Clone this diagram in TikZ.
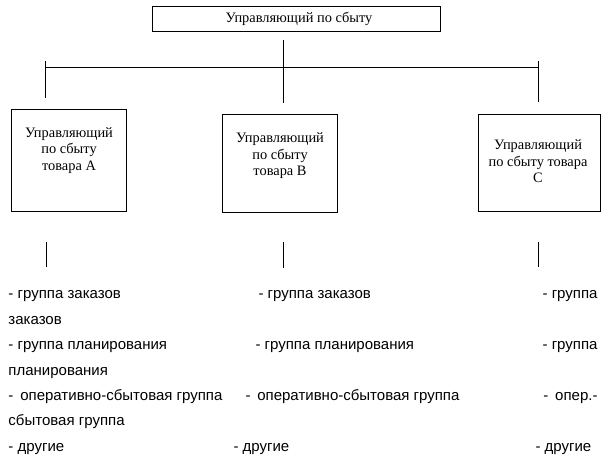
\documentclass[tikz,border=0pt]{standalone}
\usepackage{fontspec}
\setmainfont{Liberation Serif}
\setsansfont{Liberation Sans}
\usetikzlibrary{positioning}

\begin{document}
\begin{tikzpicture}[x=0.75pt,y=-0.75pt,line width=0.75pt]
		\tikzstyle{every node}=[inner sep=0pt,text=black]
		\tikzstyle{mgr}=[draw=black,fill=white]
		\tikzstyle{mgrtext}=[align=center,font=\fontsize{10.8}{12.4}\selectfont]
		\tikzstyle{grp}=[anchor=base west,font=\sffamily\fontsize{11.25}{13}\selectfont]
		
		\useasboundingbox (0,0) rectangle (605,467);
		
		\node[mgr,minimum width=216pt,minimum height=18.75pt] (head) at (296,19.5) {};
		\node[mgrtext] (headtxt) at (299,19) {Управляющий по сбыту};
		
		\node[mgr,minimum width=86.25pt,minimum height=76.5pt] (mgrA) at (68.5,160) {};
		\node[mgrtext] (txtA) at (69,150.5) {Управляющий\\по сбыту\\товара А};
		\node[mgr,minimum width=86.25pt,minimum height=73.5pt] (mgrB) at (279.5,163) {};
		\node[mgrtext] (txtB) at (280,156) {Управляющий\\по сбыту\\товара В};
		\node[mgr,minimum width=91.5pt,minimum height=72.75pt] (mgrC) at (539,162.5) {};
		\node[mgrtext] (txtC) at (538,161.5) {Управляющий\\по сбыту товара\\С};
		
		\coordinate (hubtop) at (283,40);
		\coordinate (hubbot) at (283,103);
		\coordinate (barL) at (45,67);
		\coordinate (barR) at (538,67);
		\coordinate (dropLtop) at (45,61);
		\coordinate (dropLbot) at (45,98);
		\coordinate (dropRtop) at (538,61);
		\coordinate (dropRbot) at (538,102);
		\coordinate (tickAtop) at (46,242);
		\coordinate (tickAbot) at (46,267);
		\coordinate (tickBtop) at (283,242);
		\coordinate (tickBbot) at (283,268);
		\coordinate (tickCtop) at (538,242);
		\coordinate (tickCbot) at (538,267);
		
		\draw (hubtop) -- (hubbot);
		\draw (barL) -- (barR);
		\draw (dropLtop) -- (dropLbot);
		\draw (dropRtop) -- (dropRbot);
		\draw (tickAtop) -- (tickAbot);
		\draw (tickBtop) -- (tickBbot);
		\draw (tickCtop) -- (tickCbot);
		
		\node[grp] (a1) at (8,298.5) {- группа заказов};
		\node[grp] (b1) at (258,298.5) {- группа заказов};
		\node[grp,anchor=base east] (c1) at (598,298.5) {- группа};
		\node[grp] (a1w) at (8,324.5) {заказов};
		\node[grp] (a2) at (8,349.5) {- группа планирования};
		\node[grp] (b2) at (255,349.5) {- группа планирования};
		\node[grp,anchor=base east] (c2) at (598,349.5) {- группа};
		\node[grp] (a2w) at (8,375.5) {планирования};
		\node[grp] (a3) at (8,400.5) {-\hspace{2pt} оперативно-сбытовая группа};
		\node[grp] (b3) at (245,400.5) {-\hspace{2pt} оперативно-сбытовая группа};
		\node[grp,anchor=base east] (c3) at (598,400.5) {-\hspace{2pt} опер.-};
		\node[grp] (a3w) at (8,425.5) {сбытовая группа};
		\node[grp] (a4) at (8,451.5) {- другие};
		\node[grp] (b4) at (233,451.5) {- другие};
		\node[grp] (c4) at (535,451.5) {- другие};
\end{tikzpicture}
\end{document}
